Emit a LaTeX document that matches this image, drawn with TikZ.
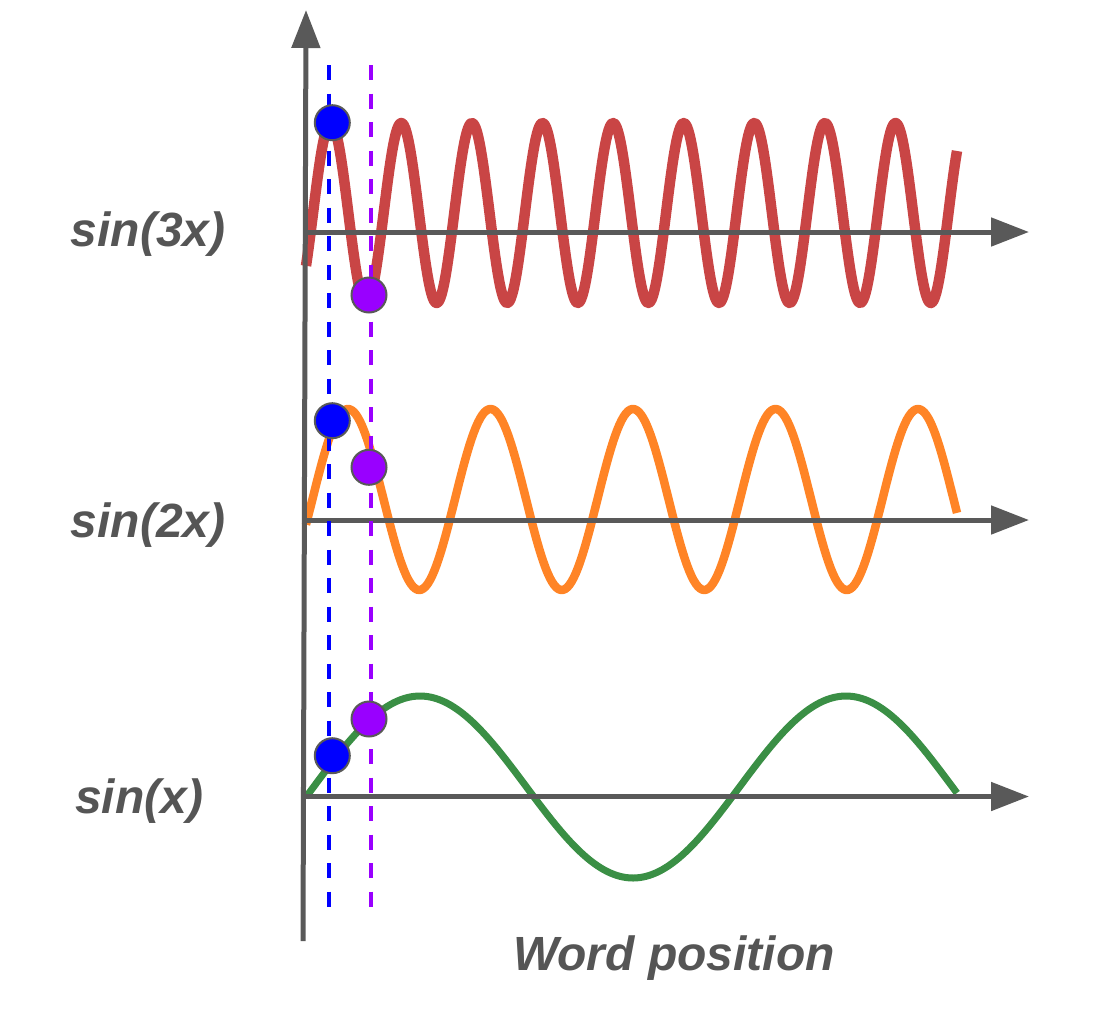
\documentclass[tikz,border=0pt]{standalone}
\usepackage{fontspec}
\setmainfont{Liberation Sans}
\usetikzlibrary{arrows.meta}
\definecolor{axisgray}{HTML}{595959}
\definecolor{txtgray}{HTML}{555555}
\definecolor{wred}{HTML}{C94545}
\definecolor{worange}{HTML}{FF8426}
\definecolor{wgreen}{HTML}{3A8F45}
\definecolor{dblue}{HTML}{0000FF}
\definecolor{dpurple}{HTML}{9900FF}
\begin{document}
\begin{tikzpicture}[x=1pt,y=-1pt,
  axis/.style={draw=axisgray,line width=5pt,-{Triangle[length=38pt,width=28pt]}},
  wave/.style={line width=#1,line join=round},
  guide/.style={line width=4pt,dash pattern=on 15pt off 13.5pt},
  dot/.style={circle,minimum size=35pt,inner sep=0pt,draw=axisgray,line width=2pt},
  lbl/.style={text=txtgray,font=\fontsize{48}{48}\selectfont\bfseries\itshape,inner sep=0pt,anchor=base west}]
\useasboundingbox (0,0) rectangle (1100,1026);

% waves
\draw[wred,wave=10.5pt,domain=306:957,samples=500] plot (\x,{213-90*cos(((\x-330.7)/70.6)*360)});
\draw[worange,wave=8.5pt,domain=306:957,samples=300] plot (\x,{499.5-90.5*cos(((\x-348)/142.5)*360)});
\draw[wgreen,wave=7pt,domain=306:957,samples=200] plot (\x,{787-91*cos(((\x-420)/426)*360)});

% axes
\coordinate (vb) at (303,941);
\coordinate (vt) at (306,10);
\coordinate (h3a) at (303,232);
\coordinate (h3b) at (1029,232);
\coordinate (h2a) at (303,520);
\coordinate (h2b) at (1029,520);
\coordinate (h1a) at (303,796.5);
\coordinate (h1b) at (1029,796.5);
\draw[axis] (h3a) -- (h3b);
\draw[axis] (h2a) -- (h2b);
\draw[axis] (h1a) -- (h1b);
\draw[axis] (vb) -- (vt);

% guides
\coordinate (bt) at (328.5,65);
\coordinate (bb) at (328.5,908);
\coordinate (pt) at (371,65);
\coordinate (pb) at (371,908);
\draw[guide,dblue] (bt) -- (bb);
\draw[guide,dpurple] (pt) -- (pb);

% dots
\node[dot,fill=dblue] (b3) at (332.3,122.7) {};
\node[dot,fill=dpurple] (p3) at (369,295) {};
\node[dot,fill=dblue] (b2) at (332.3,420.7) {};
\node[dot,fill=dpurple] (p2) at (369,467.3) {};
\node[dot,fill=dblue] (b1) at (332.3,755.7) {};
\node[dot,fill=dpurple] (p1) at (369,719) {};

% labels
\node[lbl] (l3) at (70.7,246.7) {sin(3x)};
\node[lbl] (l2) at (70.7,537.3) {sin(2x)};
\node[lbl] (l1) at (75,813.3) {sin(x)};
\node[lbl] (wp) at (513,970.7) {Word position};
\end{tikzpicture}
\end{document}
